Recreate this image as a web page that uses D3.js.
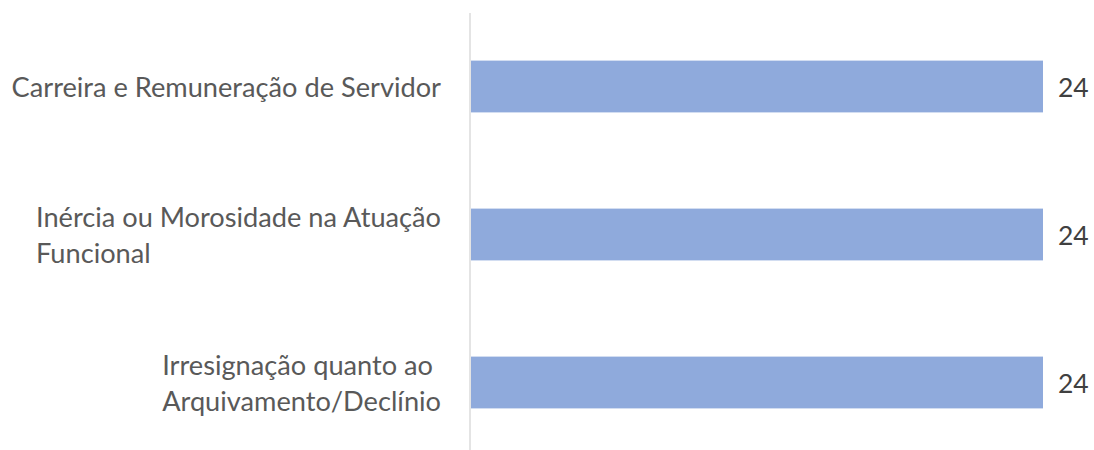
<!DOCTYPE html>
<html><head><meta charset="utf-8">
<script src="https://cdn.jsdelivr.net/npm/d3@7"></script>
<style>html,body{margin:0;padding:0;background:#fff;overflow:hidden}</style>
</head><body>
<script>
const categories = [
  ["Carreira e Remuneração de Servidor"],
  ["Inércia ou Morosidade na Atuação", "Funcional"],
  ["Irresignação quanto ao", "Arquivamento/Declínio"]
];
const values = [24, 24, 24];
const valueLabels = ["24", "24", "24"];

const W = 1094, H = 450;
const FONT = "Lato, 'Open Sans', sans-serif";
const svg = d3.select("body").append("svg").attr("width", W).attr("height", H);

const keys = categories.map(c => c.join(" "));
const y = d3.scaleBand().domain(keys).range([12.5, 456.5]).paddingInner(0.65).paddingOuter(0.325);
const x = d3.scaleLinear().domain([0, 24]).range([471, 1043]);

svg.append("line").attr("x1", 470).attr("x2", 470).attr("y1", 13).attr("y2", H)
  .attr("stroke", "#d9d9d9").attr("stroke-width", 1.4);

svg.selectAll("rect.bar").data(values).join("rect").attr("class", "bar")
  .attr("x", x(0)).attr("y", (d, i) => y(keys[i]))
  .attr("width", d => x(d) - x(0)).attr("height", y.bandwidth())
  .attr("fill", "#8faadc");

const fs = 27.2;
svg.selectAll("text.val").data(values).join("text").attr("class", "val")
  .attr("x", d => x(d) + 15).attr("y", (d, i) => y(keys[i]) + y.bandwidth() / 2 + 10.5)
  .attr("font-family", FONT).attr("font-size", 26.5).attr("fill", "#404040")
  .text((d, i) => valueLabels[i]);

categories.forEach((lines, i) => {
  const cy = y(keys[i]) + y.bandwidth() / 2;
  const g = svg.append("g");
  const lh = 36.7;
  const base = cy + 10.5 - (lines.length - 1) * lh / 2;
  const ts = lines.map((l, j) => g.append("text").attr("y", base + j * lh)
    .attr("font-family", FONT).attr("font-size", fs).attr("fill", "#595959").text(l));
  const maxW = d3.max(ts, t => t.node().getComputedTextLength());
  ts.forEach(t => t.attr("x", 441 - maxW));
});
</script>
</body></html>
